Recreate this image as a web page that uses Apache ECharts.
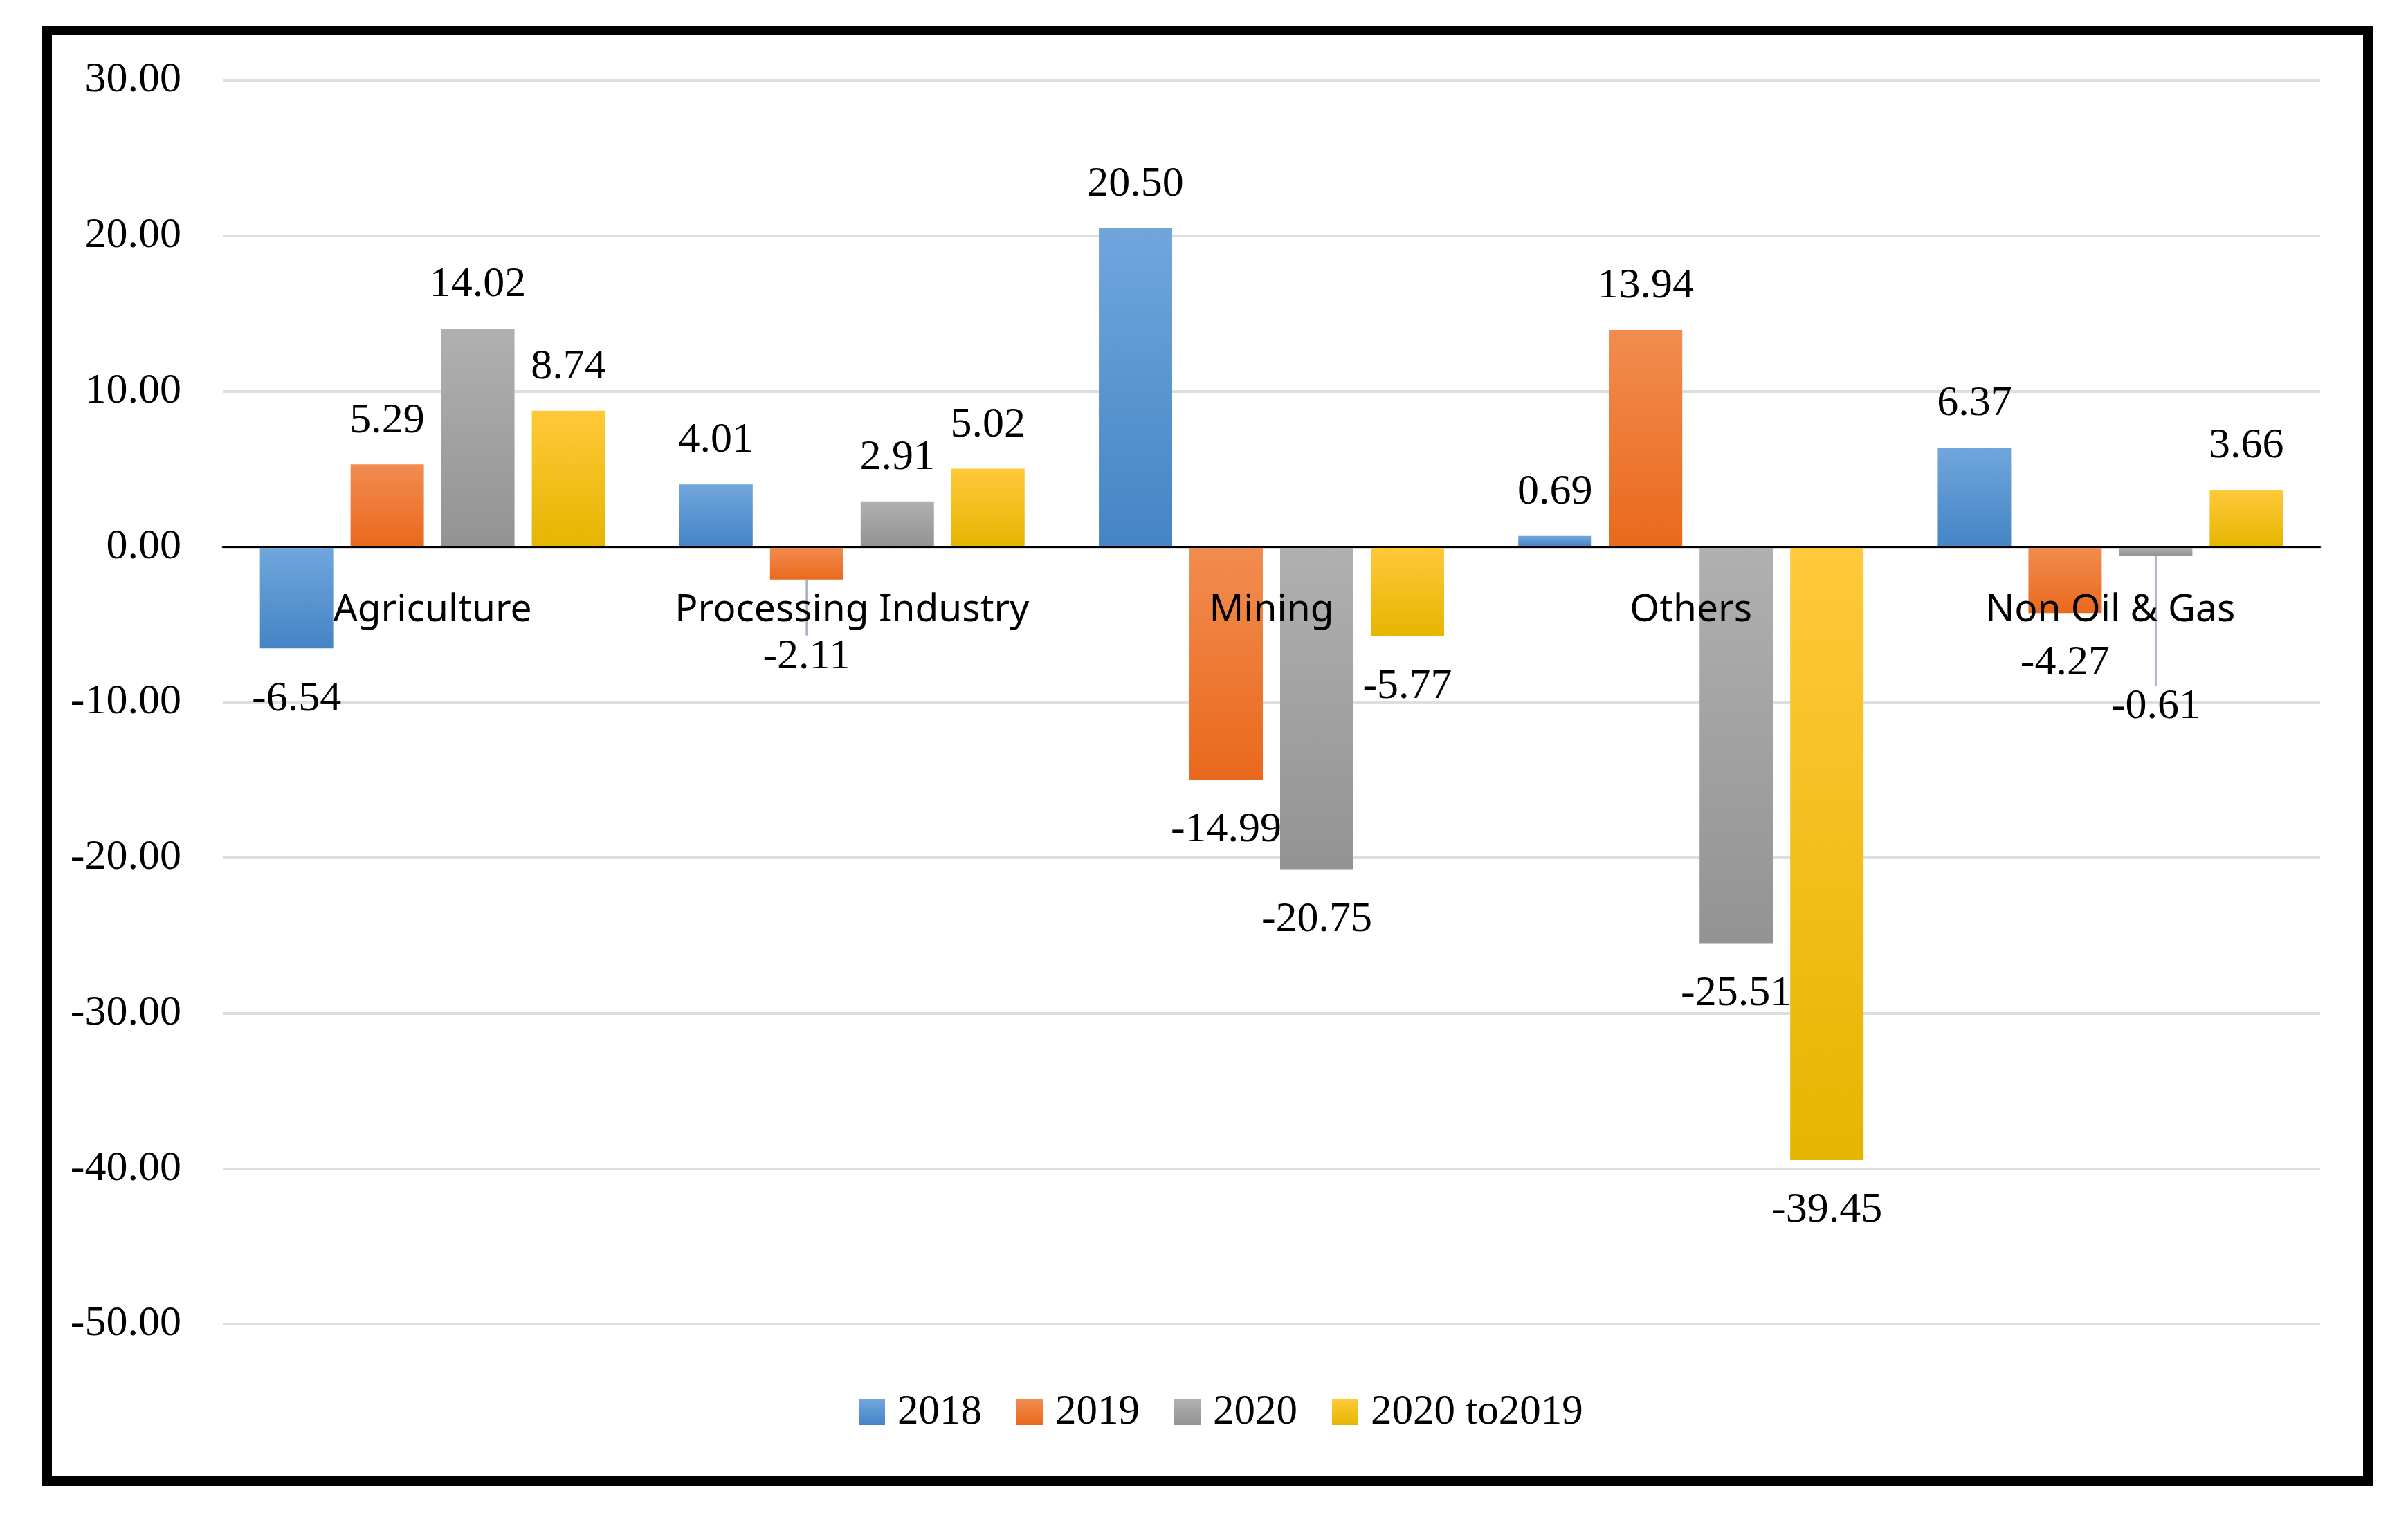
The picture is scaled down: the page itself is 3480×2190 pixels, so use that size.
<!DOCTYPE html>
<html>
<head>
<meta charset="utf-8">
<script src="https://cdn.jsdelivr.net/npm/echarts@6/dist/echarts.min.js"></script>
<style>
html,body{margin:0;padding:0;background:#fff;}
#frame{position:absolute;left:61px;top:37px;width:3340px;height:2083px;border:14px solid #000;}
#chart{position:absolute;left:0;top:0;width:3480px;height:2190px;}
</style>
</head>
<body>
<div id="frame"></div>
<div id="chart"></div>
<script>
const categories = ['Agriculture', 'Processing Industry', 'Mining', 'Others', 'Non Oil & Gas'];
const seriesNames = ['2018', '2019', '2020', '2020 to2019'];
const values2018 = [-6.54, 4.01, 20.50, 0.69, 6.37];
const values2019 = [5.29, -2.11, -14.99, 13.94, -4.27];
const values2020 = [14.02, 2.91, -20.75, -25.51, -0.61];
const values2020to2019 = [8.74, 5.02, -5.77, -39.45, 3.66];
const yTicks = [30, 20, 10, 0, -10, -20, -30, -40, -50];

const colors = [
  ['#70a6dc', '#4584c6'],
  ['#f28c50', '#e9691c'],
  ['#b0b0b0', '#939393'],
  ['#ffc93a', '#e6b500']
];
// labels that were moved (with leader lines): [seriesIndex, dataIndex, dy]
const movedLabels = [[1, 1, 39], [2, 4, 145]];

const allValues = [values2018, values2019, values2020, values2020to2019];
const serif = '"Liberation Serif", "Times New Roman", serif';

function buildData(vals, si) {
  return vals.map((v, di) => {
    const moved = movedLabels.some(m => m[0] === si && m[1] === di);
    return {
      value: v,
      label: { position: v < 0 ? 'bottom' : 'top', distance: v < 0 ? 42 : 32 },
      labelLine: { show: moved, lineStyle: { color: '#aab4c4', width: 3 } }
    };
  });
}

const series = allValues.map((vals, si) => ({
  name: seriesNames[si],
  type: 'bar',
  barCategoryGap: '17.7%',
  barGap: '23.6%',
  itemStyle: {
    color: new echarts.graphic.LinearGradient(0, 0, 0, 1, [
      { offset: 0, color: colors[si][0] },
      { offset: 1, color: colors[si][1] }
    ])
  },
  label: {
    show: true,
    color: '#000',
    fontFamily: serif,
    fontSize: 62,
    formatter: p => p.value.toFixed(2)
  },
  labelLayout: function (params) {
    const m = movedLabels.find(x => x[0] === params.seriesIndex && x[1] === params.dataIndex);
    return m ? { dy: m[2] } : {};
  },
  data: buildData(vals, si)
}));

const chart = echarts.init(document.getElementById('chart'), null, { renderer: 'canvas' });
chart.setOption({
  animation: false,
  backgroundColor: 'transparent',
  grid: { left: 322, right: 127, top: 116, bottom: 276, containLabel: false },
  legend: {
    data: seriesNames,
    left: 1236,
    top: 2006,
    itemWidth: 38,
    itemHeight: 37,
    itemGap: 50,
    icon: 'rect',
    textStyle: { fontFamily: serif, fontSize: 61, color: '#000', padding: [0, 0, 0, 13] }
  },
  xAxis: {
    type: 'category',
    data: categories,
    z: 5,
    axisLine: { onZero: true, lineStyle: { color: '#000', width: 3 } },
    axisTick: { show: false },
    axisLabel: {
      interval: 0,
      margin: -1059,
      color: '#000',
      fontFamily: '"Noto Sans", "Open Sans", sans-serif',
      fontSize: 55
    }
  },
  yAxis: {
    type: 'value',
    min: -50,
    max: 30,
    interval: 10,
    axisLine: { show: false },
    axisTick: { show: false },
    splitLine: { lineStyle: { color: '#dedede', width: 4 } },
    axisLabel: {
      margin: 60,
      color: '#000',
      fontFamily: serif,
      fontSize: 62,
      formatter: v => yTicks.includes(v) ? v.toFixed(2) : ''
    }
  },
  series: series
});
</script>
</body>
</html>
